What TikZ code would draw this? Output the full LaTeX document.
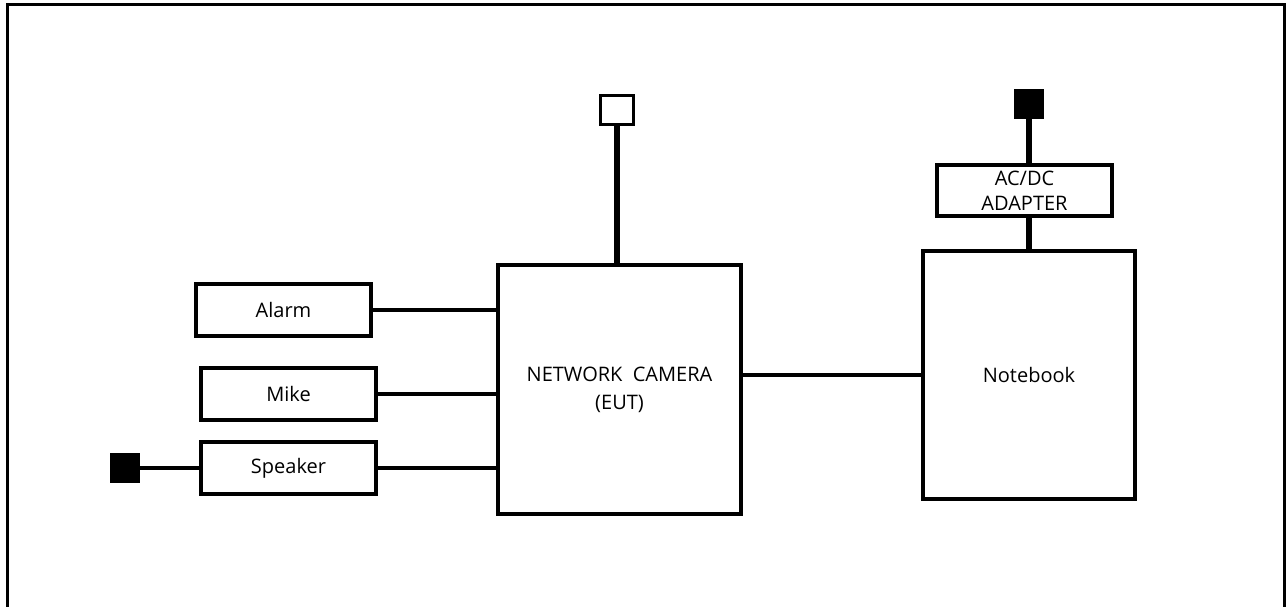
\documentclass[tikz,border=0pt]{standalone}
\usepackage{fontspec}
\setmainfont{Open Sans}
\begin{document}
\begin{tikzpicture}[x=1pt,y=-1pt,
  box/.style={draw,line width=3.2pt,rectangle,inner sep=0pt,align=center,font=\fontsize{20}{28}\selectfont},
  wire/.style={line width=3.2pt},
  thick wire/.style={line width=6pt},
  term/.style={draw,line width=3pt,inner sep=0pt,minimum width=#1,minimum height=#1},
]
\useasboundingbox (0,0) rectangle (1287,607);
\clip (0,0) rectangle (1287,607);
\draw[line width=3pt] (7.5,640) -- (7.5,4.5) -- (1284,4.5) -- (1284,640);

\node[box,minimum width=175pt,minimum height=52pt] (alarm) at (283.5,310) {Alarm};
\node[box,minimum width=175pt,minimum height=52pt] (mike) at (288.5,394) {Mike};
\node[box,minimum width=175pt,minimum height=52pt] (speaker) at (288.5,468) {Speaker};
\node[box,minimum width=243pt,minimum height=249pt] (cam) at (619.5,389.5) {NETWORK\ \ CAMERA\\(EUT)};
\node[box,minimum width=212pt,minimum height=248pt] (nb) at (1029,375) {Notebook};
\node[box,minimum width=175pt,minimum height=51pt,font=\fontsize{20}{25}\selectfont] (adp) at (1024.5,190.5) {AC/DC\\ADAPTER};

\node[term=27pt,fill=black] (spk) at (125,468) {};
\node[term=33pt,fill=white,minimum height=29pt] (ant) at (617,110.5) {};
\node[term=27pt,fill=black] (pwr) at (1028.5,104) {};

\coordinate (camA) at (cam.west |- alarm.east);
\coordinate (camM) at (cam.west |- mike.east);
\coordinate (camS) at (cam.west |- speaker.east);
\draw[wire] (alarm.east) -- (camA);
\draw[wire] (mike.east) -- (camM);
\draw[wire] (speaker.east) -- (camS);
\draw[wire] (spk.east) -- (speaker.west);
\draw[wire] (cam.east |- 0,375) -- (nb.west |- 0,375);
\draw[thick wire] (ant.south) -- (ant.south |- cam.north);
\draw[thick wire] (pwr.south) -- (pwr.south |- adp.north);
\draw[thick wire] (adp.south -| pwr.south) -- (pwr.south |- nb.north);
\end{tikzpicture}
\end{document}
